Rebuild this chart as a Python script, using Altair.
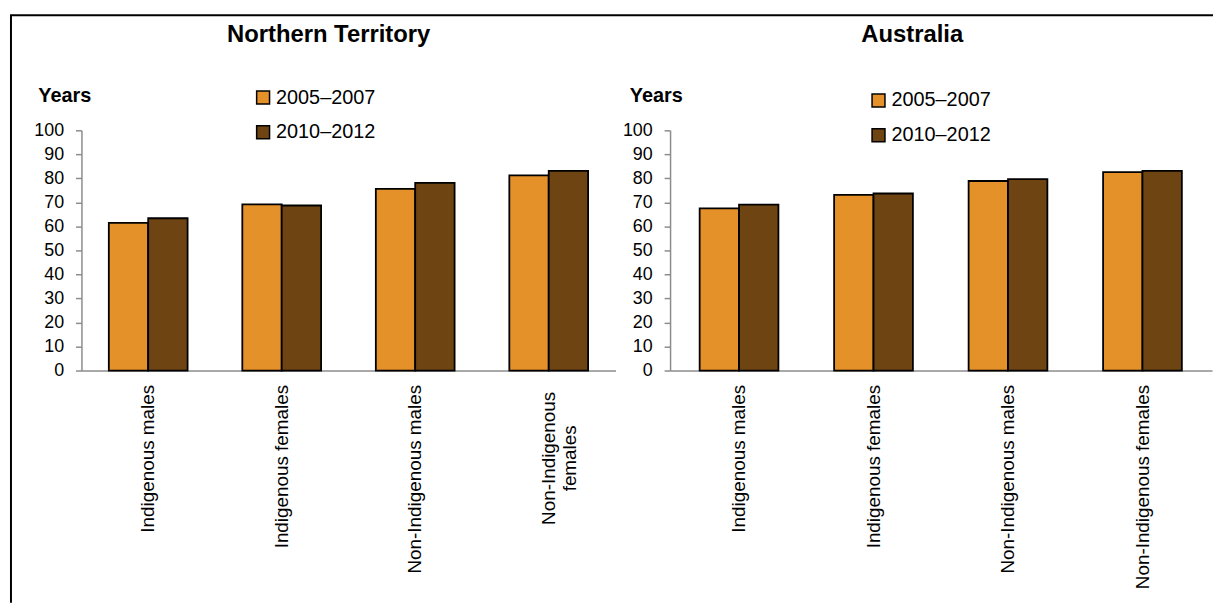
import altair as alt
import pandas as pd

# ---- data ----
categories = ["Indigenous males", "Indigenous females",
              "Non-Indigenous males", "Non-Indigenous females"]
periods = ["2005–2007", "2010–2012"]
nt_2005_2007 = [61.5, 69.2, 75.6, 81.2]
nt_2010_2012 = [63.4, 68.7, 78.1, 83.1]
au_2005_2007 = [67.5, 73.1, 78.9, 82.6]
au_2010_2012 = [69.1, 73.7, 79.7, 83.1]
y_ticks = list(range(0, 101, 10))
panel_titles = ["Northern Territory", "Australia"]
y_title = "Years"
bar_colors = ["#E4912A", "#6F4413"]

FONT = "Liberation Sans"
GREY = "#8c8c8c"


def long_table(v1, v2):
    rows = []
    for c, a, b in zip(categories, v1, v2):
        rows.append({"category": c, "period": periods[0], "value": a})
        rows.append({"category": c, "period": periods[1], "value": b})
    return pd.DataFrame(rows)


def panel(df, title, width, outer_pad, title_x, years_x, legend_x, legend_y, wrap, frame):
    wrap_test = "datum.value == 'Non-Indigenous females'"
    x_kw = dict(title=None, labelAngle=270, labelFontSize=19, labelFont=FONT,
                labelColor="black", ticks=False, tickSize=0, domainColor=GREY,
                domainWidth=1.5, labelLimit=400, labelBaseline="middle")
    if wrap:
        x_axis = alt.Axis(
            labelExpr=wrap_test + " ? ['Non-Indigenous', 'females'] : datum.value",
            labelAlign={"condition": {"test": wrap_test, "value": "center"}, "value": "right"},
            labelPadding={"condition": {"test": wrap_test, "value": 88}, "value": 14},
            **x_kw)
    else:
        x_axis = alt.Axis(labelAlign="right", labelPadding=14, **x_kw)

    y_axis = alt.Axis(values=y_ticks, title=y_title, titleAngle=0, titleAlign="left",
                      titleBaseline="middle", titleX=years_x, titleY=-35,
                      titleFontSize=20, titleFontWeight="bold", titleFont=FONT,
                      titleColor="black", labelFontSize=18, labelFont=FONT,
                      labelColor="black", labelPadding=12, tickSize=6,
                      tickColor=GREY, tickWidth=1.5, domainColor=GREY,
                      domainWidth=1.5, grid=False)

    bars = alt.Chart(df).mark_bar(stroke="black", strokeWidth=1.8).encode(
        x=alt.X("category:N", sort=categories, axis=x_axis,
                scale=alt.Scale(paddingInner=0.41, paddingOuter=outer_pad)),
        xOffset=alt.XOffset("period:N", sort=periods,
                            scale=alt.Scale(paddingInner=0, paddingOuter=0)),
        y=alt.Y("value:Q", axis=y_axis,
                scale=alt.Scale(domain=[0, 100], nice=False)),
        color=alt.Color("period:N", sort=periods,
                        scale=alt.Scale(domain=periods, range=bar_colors),
                        legend=alt.Legend(title=None, orient="none",
                                          legendX=legend_x, legendY=legend_y,
                                          labelFontSize=20, labelFont=FONT,
                                          labelColor="black", symbolType="square",
                                          symbolSize=169, symbolStrokeColor="black",
                                          symbolStrokeWidth=1.5, labelOffset=3,
                                          rowPadding=15, padding=0)),
    )

    ttl = alt.Chart(pd.DataFrame({"t": [title]})).mark_text(
        font=FONT, fontSize=24, fontWeight="bold", color="black",
        align="center", baseline="middle").encode(
        x=alt.value(title_x), y=alt.value(-96), text="t:N")

    layers = [bars, ttl]
    if frame:
        one = pd.DataFrame({"k": [0]})
        left_rule = alt.Chart(one).mark_rule(color="black", strokeWidth=2).encode(
            x=alt.value(-71), y=alt.value(-116), y2=alt.value(476))
        top_rule = alt.Chart(one).mark_rule(color="black", strokeWidth=2).encode(
            x=alt.value(-72), x2=alt.value(1140), y=alt.value(-116))
        layers += [left_rule, top_rule]

    return alt.layer(*layers).properties(width=width, height=242)


left = panel(long_table(nt_2005_2007, nt_2010_2012), panel_titles[0], 538, 0.205,
             249, -44, 173, -43, True, True)
right = panel(long_table(au_2005_2007, au_2010_2012), panel_titles[1], 546, 0.22,
              244, -41, 200, -40, False, False)

chart = alt.hconcat(left, right, spacing=55, bounds="flush").resolve_scale(
    color="independent", y="independent", x="independent"
).resolve_legend(color="independent").properties(
    padding={"left": 0, "top": 3, "right": 0, "bottom": 0},
    background="white",
).configure_view(stroke="transparent")

chart.save("out.html", embed_options={"renderer": "svg", "actions": False})
